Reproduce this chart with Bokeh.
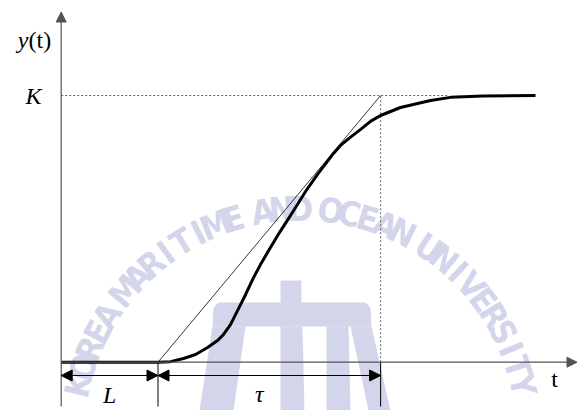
import math

from bokeh.core.properties import value
from bokeh.embed import file_html
from bokeh.models import Arrow, NormalHead, Range1d
from bokeh.plotting import figure
from bokeh.resources import INLINE

# Process reaction curve (first-order plus dead time), normalised so K = 1
gain_K = 1.0
dead_time_L = 1.0
time_const_tau = 2.3

time_pts = [0.000, 1.000, 1.129, 1.264, 1.388, 1.512, 1.615, 1.677, 1.749, 1.832,
            1.904, 1.987, 2.059, 2.131, 2.255, 2.328, 2.400, 2.524, 2.648, 2.813,
            2.895, 2.989, 3.097, 3.195, 3.299, 3.505, 3.815, 4.021, 4.362, 4.900]
response = [0.000, 0.000, 0.002, 0.014, 0.029, 0.055, 0.081, 0.104, 0.141, 0.201,
            0.253, 0.317, 0.366, 0.411, 0.486, 0.527, 0.568, 0.640, 0.704, 0.783,
            0.816, 0.844, 0.874, 0.903, 0.925, 0.955, 0.981, 0.993, 0.998, 1.000]

W, H = 577, 410
# screen placement of the origin and scale (pixels per unit)
X0, SX = 60.7, 96.8
Y0, SY = 361.7, 266.7


def tx(px):
    return (px - X0) / SX


def vy(py):
    return (Y0 - py) / SY


p = figure(width=W, height=H, output_backend="svg", toolbar_location=None,
           x_range=Range1d(tx(0), tx(W)), y_range=Range1d(vy(H), vy(0)),
           x_axis_location=None, y_axis_location=None, min_border=0)
p.grid.visible = False
p.outline_line_color = None
p.background_fill_color = "white"
p.border_fill_color = "white"

# ---- faint university watermark (seal text + emblem) ----
wm_color = "#d3d6ea"
seal_text = "KOREA MARITIME AND OCEAN UNIVERSITY"
cx, cy, R = 300.0, 436.0, 228.0
th0, th1 = math.radians(167.0), math.radians(13.0)
weights = [0.6 if ch == " " else 1.0 for ch in seal_text]
total = sum(weights) - 0.5 * (weights[0] + weights[-1])
acc = 0.0
wx, wy, wa, wt = [], [], [], []
for i, ch in enumerate(seal_text):
    if i > 0:
        acc += 0.5 * (weights[i - 1] + weights[i])
    th = th0 + (th1 - th0) * acc / total
    if ch == " ":
        continue
    px = cx + R * math.cos(th)
    py = cy - R * math.sin(th)
    wx.append(tx(px))
    wy.append(vy(py))
    wa.append(th - math.pi / 2)
    wt.append(ch)
p.text(x=wx, y=wy, text=wt, angle=wa, text_color=wm_color,
       text_font=value("DejaVu Sans Condensed"),
       text_font_style="bold", text_font_size="34px",
       text_align="center", text_baseline="middle")

# emblem: mast, crossbar and four pillars
emblem = [
    [(280, 280), (301, 280), (301, 304), (280, 304)],
    [(218, 302), (365, 302), (370, 307), (371, 326), (212, 326), (213, 307)],
    [(212, 326), (245, 326), (233, 410), (199, 410)],
    [(280, 326), (302, 326), (304, 410), (280, 410)],
    [(326, 326), (348, 326), (350, 410), (326, 410)],
    [(350, 326), (371, 326), (390, 410), (368, 410)],
]
p.patches(xs=[[tx(a) for a, b in poly] for poly in emblem],
          ys=[[vy(b) for a, b in poly] for poly in emblem],
          fill_color=wm_color, line_color=None)

axis_color = "#555555"
end_t = dead_time_L + time_const_tau
below = vy(406)
arrow_v = vy(375)

# dashed guides: level K and the end of the time constant
p.line([0, 4.0], [gain_K, gain_K], line_color="#666666", line_width=1, line_dash="2 2")
p.line([end_t, end_t], [0, gain_K], line_color="#666666", line_width=1, line_dash="2 2")

# tick lines below the time axis
p.segment(x0=[dead_time_L, end_t], y0=[0, 0], x1=[dead_time_L, end_t], y1=[below, below],
          line_color="black", line_width=1)

# axes with arrow heads
p.add_layout(Arrow(end=NormalHead(size=10, fill_color=axis_color, line_color=axis_color),
                   x_start=0, y_start=below, x_end=0, y_end=vy(11.5),
                   line_color=axis_color, line_width=1.2))
p.add_layout(Arrow(end=NormalHead(size=10, fill_color=axis_color, line_color=axis_color),
                   x_start=0, y_start=0, x_end=tx(576.5), y_end=0,
                   line_color=axis_color, line_width=1.2))

# tangent through the inflection point
p.line([dead_time_L, end_t], [0, gain_K], line_color="black", line_width=0.8)

# step response
p.line(time_pts, response, line_color="black", line_width=3, line_join="round")

# L and tau dimension arrows
for a, b in [(0, dead_time_L), (dead_time_L, end_t)]:
    p.add_layout(Arrow(start=NormalHead(size=11, fill_color="black", line_color="black"),
                       end=NormalHead(size=11, fill_color="black", line_color="black"),
                       x_start=a, y_start=arrow_v, x_end=b, y_end=arrow_v,
                       line_color="black", line_width=1))

serif = value("Liberation Serif")
label_kw = dict(text_font=serif, text_font_size="24px", text_baseline="middle",
                text_color="black")
p.text(x=[tx(28)], y=[vy(39)], text=["y"], text_font_style="italic",
       text_align="right", **label_kw)
p.text(x=[tx(28)], y=[vy(39)], text=["(t)"], text_align="left", **label_kw)
p.text(x=[tx(33)], y=[gain_K], text=["K"], text_font_style="italic",
       text_align="center", **label_kw)
p.text(x=[dead_time_L / 2], y=[vy(394)], text=["L"], text_font_style="italic",
       text_align="center", **label_kw)
p.text(x=[dead_time_L + time_const_tau / 2.2], y=[vy(393)], text=["τ"],
       text_font_style="italic", text_align="center", **label_kw)
p.text(x=[tx(554)], y=[vy(378)], text=["t"], text_align="center", **label_kw)

open("out.html", "w").write(file_html(p, INLINE))
